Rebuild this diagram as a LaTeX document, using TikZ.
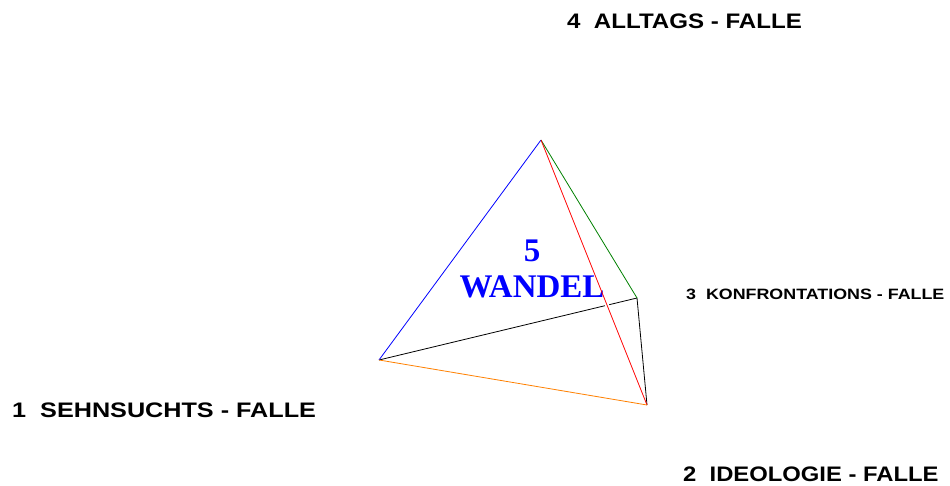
\documentclass[tikz,border=0pt]{standalone}
\usepackage{fontspec}
\setmainfont{Liberation Serif}
\newfontfamily\labelfont{Liberation Sans}
\usetikzlibrary{calc}
\newcommand{\wide}[2]{\scalebox{#1}[1]{#2}}
\tikzset{
  falle/.style={font=\labelfont\bfseries\fontsize{21}{24}\selectfont, anchor=west, inner sep=0pt},
  fallesmall/.style={font=\labelfont\bfseries\fontsize{15}{18}\selectfont, anchor=west, inner sep=0pt},
  edge/.style={line width=0.8pt},
}
\begin{document}
\begin{tikzpicture}[x=1pt,y=-1pt]
  \useasboundingbox (0,0) rectangle (950,486);
  % corners of the tetrahedron
  \coordinate (top) at (541,140);
  \coordinate (left) at (379,360);
  \coordinate (right) at (637,298);
  \coordinate (bottom) at (647,405);

  % centre label
  \node[font=\bfseries\fontsize{33}{36}\selectfont, text=blue, align=center, inner sep=0pt] (wandel) at (532,269) {5\\WANDEL};

  % edges
  \draw[edge, black] (left) -- (right);
  \draw[edge, black] (right) -- (bottom);
  \draw[white, line width=4pt] ($(top)!0.60!(bottom)$) -- ($(top)!0.65!(bottom)$);
  \draw[edge, blue] (top) -- (left);
  \draw[edge, green!50!black] (top) -- (right);
  \draw[edge, red] (top) -- (bottom);
  \draw[edge, orange] (left) -- (bottom);

  % labels
  \node[falle] (alltag) at (567,21) {\wide{1.147}{4\ \ ALLTAGS - FALLE}};
  \node[falle] (sehn) at (12,410) {\wide{1.2}{1\ \ SEHNSUCHTS - FALLE}};
  \node[falle] (ideo) at (683,474) {\wide{1.134}{2\ \ IDEOLOGIE - FALLE}};
  \node[fallesmall] (konf) at (686,294) {\wide{1.19}{3\ \ KONFRONTATIONS - FALLE}};
\end{tikzpicture}
\end{document}
